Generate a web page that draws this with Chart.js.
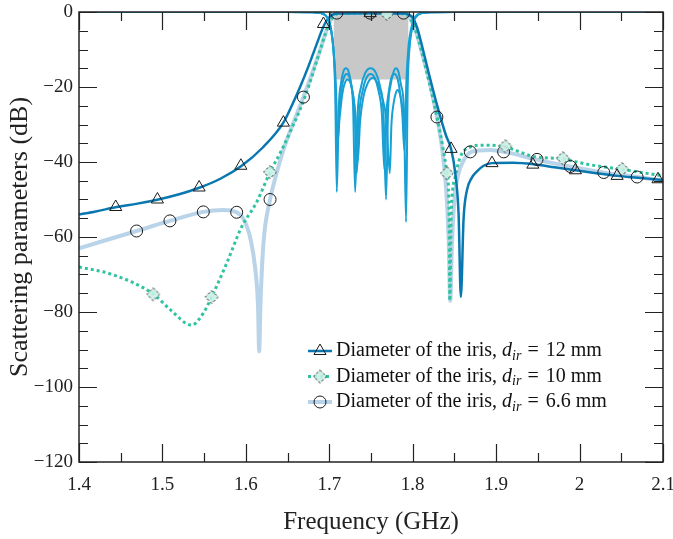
<!DOCTYPE html>
<html>
<head>
  <title>Scattering parameters vs frequency</title>
  <script src="https://cdn.jsdelivr.net/npm/chart.js"></script>
  <style>
    html, body { margin: 0; padding: 0; background: #fff; }
  </style>
</head>
<body>
  <canvas id="sparChart" width="673" height="539"></canvas>

  <script>
    // S21, iris diameter 12 mm
    var f12 = [1.40, 1.42, 1.445, 1.47, 1.495, 1.52, 1.545, 1.57, 1.595, 1.62, 1.645, 1.655, 1.665, 1.675, 1.685, 1.69, 1.695, 1.70, 1.705, 1.71, 1.75, 1.79, 1.795, 1.80, 1.805, 1.81, 1.815, 1.82, 1.83, 1.84, 1.846, 1.851, 1.855, 1.8577, 1.861, 1.865, 1.87, 1.877, 1.885, 1.895, 1.92, 1.945, 1.97, 1.995, 2.02, 2.045, 2.07, 2.1];
    var s12 = [-54, -53.2, -52, -51.1, -50, -48.6, -46.8, -44.4, -41, -36.2, -29.5, -25, -20, -14.5, -8.5, -5.5, -3, -1.4, -0.6, -0.4, -0.3, -0.4, -0.7, -1.5, -4, -8, -12.5, -17, -25.5, -33, -36.5, -43, -54, -76, -55, -47.5, -44.5, -42.5, -41, -40.3, -40.2, -40.6, -41.4, -42.2, -43, -43.7, -44.2, -44.8];

    // S21, iris diameter 10 mm
    var f10 = [1.40, 1.44, 1.489, 1.51, 1.535, 1.549, 1.559, 1.577, 1.595, 1.613, 1.629, 1.643, 1.655, 1.665, 1.675, 1.685, 1.69, 1.695, 1.70, 1.705, 1.71, 1.75, 1.79, 1.795, 1.80, 1.805, 1.81, 1.82, 1.83, 1.836, 1.841, 1.8435, 1.8445, 1.846, 1.851, 1.857, 1.869, 1.885, 1.911, 1.944, 1.98, 2.009, 2.051, 2.1];
    var s10 = [-68, -70, -75.2, -79.5, -83.5, -80.3, -76, -67, -57.3, -50.7, -42.7, -36.8, -31, -26, -20, -13, -9.5, -6, -3, -1.2, -0.5, -0.3, -0.5, -1.2, -3, -6, -10, -19, -29, -36, -43, -52, -77, -55, -44, -38.7, -36, -35.5, -36, -38.5, -39.2, -40.6, -42, -43.7];

    // S21, iris diameter 6.6 mm
    var f66 = [1.40, 1.43, 1.469, 1.509, 1.549, 1.573, 1.589, 1.599, 1.606, 1.611, 1.6145, 1.616, 1.6175, 1.621, 1.629, 1.635, 1.645, 1.657, 1.669, 1.68, 1.69, 1.695, 1.70, 1.705, 1.71, 1.75, 1.79, 1.795, 1.80, 1.805, 1.81, 1.82, 1.829, 1.835, 1.84, 1.843, 1.845, 1.847, 1.85, 1.855, 1.86, 1.87, 1.893, 1.91, 1.951, 1.991, 2.031, 2.07, 2.1];
    var s66 = [-63, -61, -58.4, -55.7, -53.3, -52.8, -53.4, -56, -61, -68, -78, -90.5, -78, -62, -50, -44.5, -36.8, -29.5, -22.7, -16, -9.5, -6, -3, -1.2, -0.4, -0.3, -0.4, -1.2, -3, -6, -10, -18.5, -28, -36, -47, -60, -77, -62, -50, -43, -40, -37.3, -36.8, -37.3, -39.5, -41.3, -42.9, -44, -45];

    // S11 curves (three cases)
    var fA = [1.40, 1.65, 1.68, 1.69, 1.695, 1.699, 1.702, 1.705, 1.707, 1.709, 1.7115, 1.714, 1.717, 1.720, 1.723, 1.726, 1.7285, 1.731, 1.734, 1.738, 1.743, 1.7495, 1.756, 1.761, 1.765, 1.768, 1.7705, 1.7735, 1.777, 1.780, 1.783, 1.786, 1.7895, 1.792, 1.794, 1.796, 1.799, 1.802, 1.806, 1.811, 1.82, 1.85, 2.1];
    var sA = [0, 0, -0.1, -0.3, -0.8, -2, -4.5, -10, -20, -48, -25, -19, -15.8, -15, -15.8, -19, -25, -48, -27, -20, -16.3, -15, -16.3, -20, -27, -50, -26, -19.5, -16, -15, -16, -19.5, -26, -56, -20, -10, -4.5, -2, -0.8, -0.3, -0.1, 0, 0];
    var fB = [1.40, 1.65, 1.68, 1.69, 1.695, 1.699, 1.702, 1.705, 1.7075, 1.7095, 1.712, 1.7145, 1.7175, 1.721, 1.7245, 1.7275, 1.7305, 1.733, 1.736, 1.740, 1.744, 1.7495, 1.755, 1.759, 1.763, 1.766, 1.7685, 1.7715, 1.7745, 1.778, 1.7815, 1.7845, 1.7875, 1.790, 1.7925, 1.795, 1.798, 1.801, 1.805, 1.81, 1.82, 1.85, 2.1];
    var sB = [0, 0, -0.1, -0.3, -0.8, -2, -4.5, -10, -20, -37, -27, -21, -17.5, -16.5, -17.5, -21, -27, -43, -27, -21, -17.8, -16.5, -17.8, -21, -27, -42, -27, -21, -17.5, -16.5, -17.5, -21, -27, -37, -18, -9, -4.5, -2, -0.8, -0.3, -0.1, 0, 0];
    var fC = [1.40, 1.65, 1.68, 1.69, 1.695, 1.699, 1.702, 1.705, 1.708, 1.710, 1.7125, 1.7155, 1.7185, 1.722, 1.7255, 1.7285, 1.7315, 1.734, 1.737, 1.741, 1.746, 1.752, 1.758, 1.763, 1.7685, 1.7725, 1.7745, 1.777, 1.7795, 1.782, 1.7845, 1.787, 1.789, 1.791, 1.7935, 1.796, 1.799, 1.802, 1.806, 1.811, 1.82, 1.85, 2.1];
    var sC = [0, 0, -0.1, -0.3, -0.8, -2, -4.5, -10, -20, -34, -28, -22, -19, -18, -19, -22, -28, -40, -29, -22.5, -19, -17.6, -19, -22.5, -29, -43, -30, -24.5, -21.8, -20.8, -21.8, -24.5, -30, -34, -17, -9, -4.5, -2, -0.8, -0.3, -0.1, 0, 0];

    // grey spec mask (passband, return loss limit)
    var maskX = [1.705, 1.795];
    var maskY = [-18, -18];

    // marker positions
    var tri12X = [1.444, 1.494, 1.544, 1.594, 1.645, 1.693, 1.749, 1.846, 1.895, 1.944, 1.995, 2.045, 2.094];
    var tri12Y = [-52, -50, -46.8, -41, -29.5, -3.2, -0.3, -36.5, -40.3, -40.7, -42.2, -43.7, -44.6];
    var dia10X = [1.489, 1.559, 1.629, 1.769, 1.841, 1.911, 1.98, 2.051];
    var dia10Y = [-75.3, -76, -42.7, -0.5, -43, -35.8, -39, -41.9];
    var circ66X = [1.469, 1.509, 1.549, 1.589, 1.629, 1.669, 1.709, 1.749, 1.789, 1.829, 1.869, 1.909, 1.949, 1.989, 2.029, 2.069];
    var circ66Y = [-58.4, -55.7, -53.3, -53.4, -50, -22.7, -0.3, -0.3, -0.3, -28, -37.3, -37.3, -39.3, -41.2, -42.8, -44];

    var legendSizes = ['12 mm', '10 mm', '6.6 mm'];

    var serif = "'Liberation Serif', 'DejaVu Serif', serif";
    var darkBlue = '#0a78b0';
    var brightBlue = '#18a0d4';
    var paleBlue = '#b9d4e8';
    var green = '#2fc3a0';

    function pts(xs, ys) {
      return xs.map(function(x, i) { return { x: x, y: ys[i] }; });
    }

    // dashed diamond marker
    var diamond = document.createElement('canvas');
    diamond.width = 16; diamond.height = 16;
    (function() {
      var g = diamond.getContext('2d');
      g.beginPath();
      g.moveTo(8, 1.5); g.lineTo(14.5, 8); g.lineTo(8, 14.5); g.lineTo(1.5, 8); g.closePath();
      g.fillStyle = 'rgba(200,240,228,0.9)';
      g.fill();
      g.setLineDash([2.5, 2]);
      g.strokeStyle = '#222';
      g.lineWidth = 1;
      g.stroke();
    })();

    var lineDefaults = { pointRadius: 0, fill: false, cubicInterpolationMode: 'monotone' };

    function lineSet(xs, ys, color, width, order, extra) {
      return Object.assign({ data: pts(xs, ys), borderColor: color, borderWidth: width, order: order }, lineDefaults, extra || {});
    }

    function markerSet(xs, ys, style, radius) {
      return {
        data: pts(xs, ys), showLine: false, order: 0, clip: 0,
        pointStyle: style, pointRadius: radius, pointHoverRadius: radius,
        pointBorderColor: '#1a1a1a', pointBorderWidth: 1,
        pointBackgroundColor: 'rgba(0,0,0,0)'
      };
    }

    // inward ticks and frame
    var frameTicks = {
      id: 'frameTicks',
      afterDatasetsDraw: function(chart) {
        var a = chart.chartArea, xs = chart.scales.x, ys = chart.scales.y, c = chart.ctx;
        c.save();
        c.strokeStyle = '#222';
        c.lineWidth = 1.2;
        c.beginPath();
        for (var i = 0; i <= 14; i++) {
          var px = Math.round(xs.getPixelForValue(1.4 + i * 0.05)) + 0.5;
          var len = i % 2 === 0 ? 18 : 9;
          c.moveTo(px, a.bottom); c.lineTo(px, a.bottom - len);
          c.moveTo(px, a.top); c.lineTo(px, a.top + len);
        }
        for (var v = 0; v >= -120; v -= 5) {
          var py = Math.round(ys.getPixelForValue(v)) + 0.5;
          var l2 = v % 20 === 0 ? 18 : 9;
          c.moveTo(a.left, py); c.lineTo(a.left + l2, py);
          c.moveTo(a.right, py); c.lineTo(a.right - l2, py);
        }
        c.stroke();
        c.lineWidth = 1.5;
        c.strokeRect(a.left, a.top, a.right - a.left, a.bottom - a.top);
        c.restore();
      }
    };

    // legend with line sample + marker and math subscript
    var legendBox = {
      id: 'legendBox',
      afterDraw: function(chart) {
        var c = chart.ctx;
        var rows = [
          { color: darkBlue, width: 2.5, dash: [], style: 'triangle', radius: 7 },
          { color: green, width: 3, dash: [3, 3], style: diamond, radius: 7 },
          { color: paleBlue, width: 4, dash: [], style: 'circle', radius: 6 }
        ];
        rows.forEach(function(r, i) {
          var y = 351 + i * 25.5;
          c.save();
          c.strokeStyle = r.color; c.lineWidth = r.width; c.setLineDash(r.dash);
          c.beginPath(); c.moveTo(308, y); c.lineTo(332, y); c.stroke();
          c.restore();
          c.save();
          c.strokeStyle = '#1a1a1a'; c.fillStyle = 'rgba(0,0,0,0)'; c.lineWidth = 1;
          Chart.helpers.drawPoint(c, { pointStyle: r.style, radius: r.radius, borderWidth: 1, rotation: 0 }, 320, y);
          c.restore();

          c.save();
          c.fillStyle = '#111';
          c.textBaseline = 'middle';
          var x = 336;
          c.font = '20px ' + serif;
          var t1 = 'Diameter of the iris, ';
          c.fillText(t1, x, y); x += c.measureText(t1).width;
          c.font = 'italic 20px ' + serif;
          c.fillText('d', x, y); x += c.measureText('d').width;
          c.font = 'italic 14px ' + serif;
          c.fillText('ir', x, y + 5); x += c.measureText('ir').width + 6;
          c.font = '20px ' + serif;
          c.fillText('=', x, y); x += c.measureText('=').width + 7;
          c.fillText(legendSizes[i], x, y);
          c.restore();
        });
      }
    };

    var ctx = document.getElementById('sparChart').getContext('2d');
    var chart = new Chart(ctx, {
      type: 'line',
      data: {
        datasets: [
          markerSet(tri12X, tri12Y, 'triangle', 7),
          markerSet(dia10X, dia10Y, diamond, 7),
          markerSet(circ66X, circ66Y, 'circle', 6),
          lineSet(fA, sA, brightBlue, 2, 1),
          lineSet(fB, sB, brightBlue, 2, 1),
          lineSet(fC, sC, brightBlue, 2, 1),
          lineSet(f12, s12, darkBlue, 2.5, 2),
          lineSet(f10, s10, green, 3, 3, { borderDash: [3, 3], borderCapStyle: 'butt' }),
          lineSet(f66, s66, paleBlue, 4, 4),
          lineSet(maskX, maskY, 'rgba(0,0,0,0)', 0, 5, { fill: 'end', backgroundColor: '#c8c8c8' })
        ]
      },
      options: {
        responsive: false,
        animation: false,
        layout: { padding: { top: 12, right: 10, left: 0, bottom: 0 } },
        plugins: { legend: { display: false }, tooltip: { enabled: false } },
        scales: {
          x: {
            type: 'linear', min: 1.4, max: 2.1,
            grid: { display: false, drawTicks: false },
            border: { display: false },
            ticks: {
              stepSize: 0.1, padding: 12, autoSkip: false, maxRotation: 0, color: '#222',
              font: { family: serif, size: 19 },
              callback: function(v) { return String(Math.round(v * 10) / 10); }
            },
            title: { display: true, text: 'Frequency (GHz)', color: '#222', font: { family: serif, size: 25 }, padding: 2 },
            afterFit: function(s) { s.height = 77; s.paddingLeft = 0; s.paddingRight = 0; }
          },
          y: {
            min: -120, max: 0,
            grid: { display: false, drawTicks: false },
            border: { display: false },
            ticks: {
              stepSize: 20, padding: 6, color: '#222',
              font: { family: serif, size: 19 },
              callback: function(v) { return v < 0 ? '\u2212' + Math.abs(v) : String(v); }
            },
            title: { display: true, text: 'Scattering parameters (dB)', color: '#222', font: { family: serif, size: 26 }, padding: 5 },
            afterFit: function(s) { s.width = 79; s.paddingTop = 0; s.paddingBottom = 0; }
          }
        }
      },
      plugins: [frameTicks, legendBox]
    });
  </script>
</body>
</html>
